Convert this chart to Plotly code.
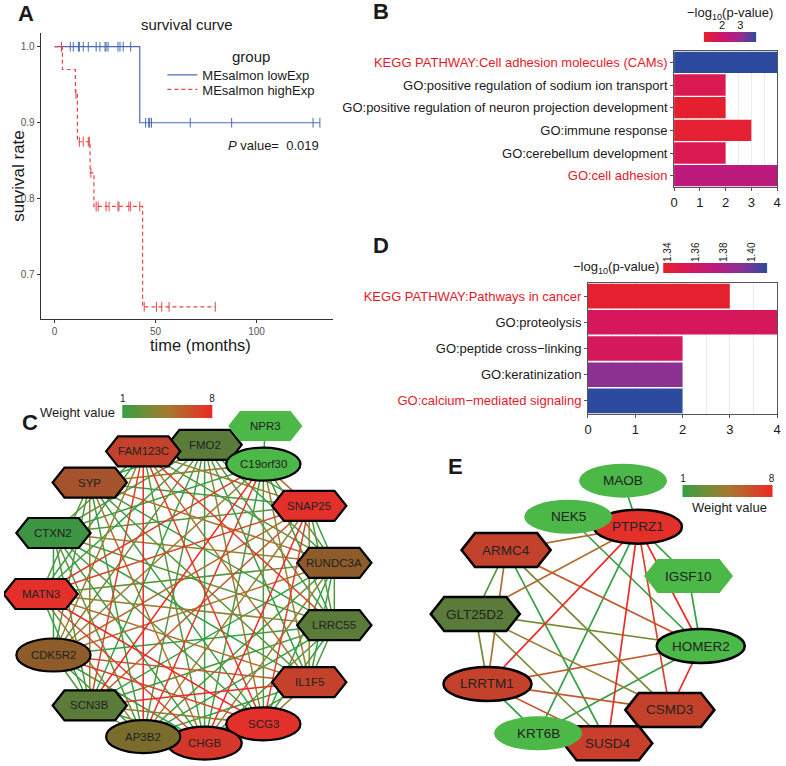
import numpy as np
import plotly.graph_objects as go
from plotly.colors import sample_colorscale

W, H = 786, 766
FONT = "Arial, Liberation Sans, sans-serif"
INK = "#1a1a1a"
BLUE = "#4a6bb3"
RED = "#e8474a"
HIGHLIGHT = "#e3192b"

def px(x):
    return x / W

def py(y):
    return 1 - y / H

# ---------------- A: survival curve data ----------------
group_names = ["MEsalmon lowExp", "MEsalmon highExp"]
low_time = [0, 42.2, 131.4]
low_surv = [1.0, 0.9, 0.9]
high_time = [0, 3.9, 10.3, 11.3, 17.6, 19.5, 43.6, 79.6]
high_surv = [1.0, 0.97, 0.9375, 0.875, 0.834, 0.79, 0.658, 0.658]
low_censor = [3.4, 7.8, 9.3, 11.8, 12.3, 14.2, 16.7, 20.6, 22.5, 25.0, 25.5, 26.5,
              31.4, 32.4, 34.0, 37.7, 45.1, 46.6, 47.1, 48.0, 67.2, 87.7, 128.0, 131.4]
high_censor = [3.4, 10.6, 12.3, 14.2, 16.7, 17.2, 18.0, 20.6, 21.6, 25.5, 27.0, 31.4,
               31.9, 36.8, 37.7, 42.2, 44.4, 50.5, 53.1, 56.7, 79.6]
p_value = 0.019
a_xticks = [0, 50, 100]
a_yticks = [0.7, 0.8, 0.9, 1.0]

# ---------------- B: enrichment ----------------
b_terms = ["KEGG PATHWAY:Cell adhesion molecules (CAMs)",
           "GO:positive regulation of sodium ion transport",
           "GO:positive regulation of neuron projection development",
           "GO:immune response",
           "GO:cerebellum development",
           "GO:cell adhesion"]
b_counts = [4, 2, 2, 3, 2, 4]
b_logp = [3.87, 1.57, 1.05, 1.10, 1.57, 2.43]
b_red_terms = ["KEGG PATHWAY:Cell adhesion molecules (CAMs)", "GO:cell adhesion"]
b_logp_range = [1.0, 3.87]
b_cbar_ticks = [2, 3]

# ---------------- D: enrichment ----------------
d_terms = ["KEGG PATHWAY:Pathways in cancer",
           "GO:proteolysis",
           "GO:peptide cross\u2212linking",
           "GO:keratinization",
           "GO:calcium\u2212mediated signaling"]
d_counts = [3, 4, 2, 2, 2]
d_logp = [1.338, 1.355, 1.356, 1.392, 1.411]
d_red_terms = ["KEGG PATHWAY:Pathways in cancer", "GO:calcium\u2212mediated signaling"]
d_logp_range = [1.3365, 1.4110]
d_cbar_ticks = [1.34, 1.36, 1.38, 1.40]
count_ticks = [0, 1, 2, 3, 4]

# ---------------- C: network ----------------
c_ring = ["FMO2", "C19orf30", "SNAP25", "RUNDC3A", "LRRC55", "IL1F5", "SCG3", "CHGB",
          "AP3B2", "SCN3B", "CDK5R2", "MATN3", "CTXN2", "SYP", "FAM123C"]
# upper-triangle weight rows (row i lists weights to ring nodes i+1..end, '.' = no edge)
c_weight_rows = [".212141213121.",
                 "5214217847145",
                 "124784657214",
                 "21142152452",
                 "2121214217",
                 "421865125",
                 "52478217",
                 ".217152",
                 "214218",
                 "21247",
                 ".124",
                 ".21",
                 ".2",
                 "."]
c_satellite = {"NPR3": "C19orf30"}
c_extra_edges = [("C19orf30", "NPR3", 1)]
c_node_value = {"NPR3": 1, "FMO2": 3, "FAM123C": 7, "C19orf30": 1, "SYP": 6, "SNAP25": 8,
                "CTXN2": 2, "RUNDC3A": 5, "MATN3": 8, "LRRC55": 3, "CDK5R2": 5, "IL1F5": 7,
                "SCN3B": 3, "SCG3": 8, "AP3B2": 4, "CHGB": 7.6}
c_hexagon = {"NPR3", "FMO2", "FAM123C", "SYP", "SNAP25", "CTXN2", "RUNDC3A", "MATN3",
             "LRRC55", "IL1F5", "SCN3B"}
c_unbordered = {"NPR3"}

# ---------------- E: network ----------------
e_ring = ["PTPRZ1", "IGSF10", "HOMER2", "CSMD3", "SUSD4", "KRT6B", "LRRTM1", "GLT25D2",
          "ARMC4", "NEK5"]
e_satellite = {"MAOB": "PTPRZ1"}
e_edges = [("MAOB", "PTPRZ1", 1), ("PTPRZ1", "ARMC4", 5), ("PTPRZ1", "GLT25D2", 5),
           ("PTPRZ1", "LRRTM1", 8), ("PTPRZ1", "KRT6B", 1), ("PTPRZ1", "SUSD4", 8),
           ("PTPRZ1", "CSMD3", 7), ("PTPRZ1", "HOMER2", 8), ("PTPRZ1", "IGSF10", 1),
           ("NEK5", "HOMER2", 1), ("IGSF10", "HOMER2", 1), ("ARMC4", "GLT25D2", 2),
           ("ARMC4", "LRRTM1", 5), ("ARMC4", "HOMER2", 6), ("ARMC4", "SUSD4", 1),
           ("ARMC4", "CSMD3", 3), ("GLT25D2", "HOMER2", 3), ("GLT25D2", "LRRTM1", 3),
           ("GLT25D2", "CSMD3", 4), ("GLT25D2", "SUSD4", 3), ("LRRTM1", "HOMER2", 6),
           ("LRRTM1", "CSMD3", 6), ("LRRTM1", "SUSD4", 6), ("LRRTM1", "KRT6B", 1),
           ("KRT6B", "HOMER2", 1), ("KRT6B", "SUSD4", 6), ("HOMER2", "CSMD3", 8),
           ("CSMD3", "SUSD4", 5)]
e_node_value = {"MAOB": 1, "NEK5": 1, "PTPRZ1": 8, "ARMC4": 7, "IGSF10": 1, "GLT25D2": 3,
                "HOMER2": 1, "LRRTM1": 7, "CSMD3": 7, "KRT6B": 1, "SUSD4": 7.2}
e_hexagon = {"ARMC4", "IGSF10", "GLT25D2", "CSMD3", "SUSD4"}
e_unbordered = {"MAOB", "NEK5", "IGSF10", "KRT6B"}
weight_range = [1, 8]

# ---------------- colour scales ----------------
PVAL_SCALE = [[0, "#e6212b"], [0.25, "#d6175a"], [0.5, "#bd1a7e"], [0.75, "#8a3192"], [1, "#2d4b9e"]]
WEIGHT_SCALE = [[0, "#35a043"], [0.5, "#a57a30"], [1, "#ec2b26"]]
NODE_SCALE = [[0, "#4cb848"], [1 / 7, "#3d9442"], [2 / 7, "#5b7b3a"], [3 / 7, "#7a6c2c"],
              [4 / 7, "#8d5c2a"], [5 / 7, "#a4532c"], [6 / 7, "#c4422c"], [1, "#e3302a"]]


def surv_at(times, survs, t):
    val = survs[0]
    for ti, si in zip(times, survs):
        if ti <= t:
            val = si
    return val


fig = go.Figure()

# ---------------- A traces ----------------
for name, t, s, cens, color, dash, leg in [
        (group_names[0], low_time, low_surv, low_censor, BLUE, "solid", "legend"),
        (group_names[1], high_time, high_surv, high_censor, RED, "4px,3px", "legend2")]:
    fig.add_trace(go.Scatter(x=t, y=s, mode="lines", name=name, legendgroup=name, legend=leg,
                             line=dict(shape="hv", color=color, width=1.2, dash=dash),
                             xaxis="x", yaxis="y", hoverinfo="skip"))
    fig.add_trace(go.Scatter(x=cens, y=[surv_at(t, s, c) for c in cens], mode="markers",
                             marker=dict(symbol="line-ns-open", size=7, color=color,
                                         line=dict(color=color, width=1)),
                             showlegend=False, legendgroup=name, xaxis="x", yaxis="y",
                             hoverinfo="skip"))

# ---------------- B & D bars ----------------
fig.add_trace(go.Bar(x=b_counts, y=b_terms, orientation="h", showlegend=False,
                     marker=dict(color=b_logp, coloraxis="coloraxis", line=dict(width=0)),
                     xaxis="x2", yaxis="y2"))
fig.add_trace(go.Bar(x=d_counts, y=d_terms, orientation="h", showlegend=False,
                     marker=dict(color=d_logp, coloraxis="coloraxis2", line=dict(width=0)),
                     xaxis="x3", yaxis="y3"))

# colour legends drawn as thin heatmaps sharing the bar colour axes
bx = np.linspace(b_logp_range[0], b_logp_range[1], 80)
fig.add_trace(go.Heatmap(x=bx, y=[0], z=[bx], coloraxis="coloraxis", xaxis="x5", yaxis="y5",
                         hoverinfo="skip"))
dx = np.linspace(d_logp_range[0], d_logp_range[1], 80)
fig.add_trace(go.Heatmap(x=dx, y=[0], z=[dx], coloraxis="coloraxis2", xaxis="x6", yaxis="y6",
                         hoverinfo="skip"))
wx = np.linspace(weight_range[0], weight_range[1], 80)
for xa, ya in [("x7", "y7"), ("x8", "y8")]:
    fig.add_trace(go.Heatmap(x=wx, y=[0], z=[wx], colorscale=WEIGHT_SCALE, zmin=1, zmax=8,
                             showscale=False, xaxis=xa, yaxis=ya, hoverinfo="skip"))

# ---------------- networks ----------------
def ring_positions(ring, cx, cy, r, start, step):
    pos = {}
    for k, name in enumerate(ring):
        th = np.radians(start + k * step)
        pos[name] = (cx + r * np.sin(th), cy - r * np.cos(th))
    return pos


def ring_edges(ring, rows):
    edges = []
    for i, row in enumerate(rows):
        for off, ch in enumerate(row):
            if ch != ".":
                edges.append((ring[i], ring[i + 1 + off], int(ch)))
    return edges


shapes = []
annotations = []


def draw_network(pos, edges, node_value, hexagons, unbordered, size_hex, size_ell,
                 font_size, edge_width, border):
    for w in sorted(set(e[2] for e in edges)):
        xs, ys = [], []
        for a, b, ww in edges:
            if ww == w:
                xs += [pos[a][0], pos[b][0], None]
                ys += [pos[a][1], pos[b][1], None]
        col = sample_colorscale(WEIGHT_SCALE, [(w - 1) / 7])[0]
        fig.add_trace(go.Scatter(x=xs, y=ys, mode="lines", line=dict(color=col, width=edge_width),
                                 xaxis="x4", yaxis="y4", showlegend=False, hoverinfo="skip"))
    for name, (cx, cy) in pos.items():
        fill = sample_colorscale(NODE_SCALE, [(node_value[name] - 1) / 7])[0]
        line = dict(color="black", width=0 if name in unbordered else border)
        if name in hexagons:
            w, h = size_hex
            s = h * 0.4
            path = (f"M {cx - w / 2},{cy} L {cx - w / 2 + s},{cy - h / 2} L {cx + w / 2 - s},{cy - h / 2} "
                    f"L {cx + w / 2},{cy} L {cx + w / 2 - s},{cy + h / 2} L {cx - w / 2 + s},{cy + h / 2} Z")
            shapes.append(dict(type="path", path=path, xref="x4", yref="y4", fillcolor=fill,
                               line=line, layer="above"))
        else:
            w, h = size_ell
            shapes.append(dict(type="circle", x0=cx - w / 2, x1=cx + w / 2, y0=cy - h / 2,
                               y1=cy + h / 2, xref="x4", yref="y4", fillcolor=fill, line=line,
                               layer="above"))
        annotations.append(dict(x=cx, y=cy, xref="x4", yref="y4", text=name, showarrow=False,
                                xanchor="center", yanchor="middle",
                                font=dict(size=font_size, color="#222222", family=FONT)))


c_pos = ring_positions(c_ring, 187, 594, 150, 6, 24)
for sat, host in c_satellite.items():
    c_pos[sat] = (c_pos[host][0] + 2, c_pos[host][1] - 38)
c_edges = ring_edges(c_ring, c_weight_rows) + c_extra_edges
draw_network(c_pos, c_edges, c_node_value, c_hexagon, c_unbordered, (75, 30), (75, 33),
             11.5, 1.5, 2.2)

e_pos = ring_positions(e_ring, 590, 630, 115, 26, 36)
for sat, host in e_satellite.items():
    e_pos[sat] = (e_pos[host][0] - 15, e_pos[host][1] - 46)
draw_network(e_pos, e_edges, e_node_value, e_hexagon, e_unbordered, (90, 34), (89, 34),
             13.5, 1.7, 2.5)

# ---------------- text annotations ----------------
def note(x, y, text, size, xanchor="center", **kw):
    d = dict(x=px(x), y=py(y), xref="paper", yref="paper", text=text, showarrow=False,
             xanchor=xanchor, yanchor="middle",
             font=dict(size=size, color=kw.pop("color", INK), family=FONT))
    d.update(kw)
    annotations.append(d)

for letter, x, y in [("A", 22, 13), ("B", 381, 12), ("D", 381, 246), ("C", 26, 422), ("E", 456, 466)]:
    note(x, y, f"<b>{letter}</b>", 22)
note(185, 25, "survival curve", 15)
note(14, 176, "survival rate", 17, textangle=-90)
note(199, 345, "time (months)", 16.5)
note(250, 56, "group", 15)
note(320, 145, f"<i>P</i> value=\u00a0\u00a0{p_value}", 13, xanchor="right")
note(733, 14, "\u2212log<sub>10</sub>(p-value)", 13)
note(664, 267, "\u2212log<sub>10</sub>(p-value)", 13, xanchor="right")
note(114, 412, "Weight value", 13, xanchor="right")
note(733, 507, "Weight value", 13)


def colored_ticks(terms, red_terms):
    return [f"<span style='color:{HIGHLIGHT}'>{t}</span>" if t in red_terms else t for t in terms]


frame = dict(showline=True, mirror=True, linecolor="#555555", linewidth=1, ticks="outside",
             ticklen=3, tickcolor="#555555", zeroline=False)
bar_x = dict(frame, range=[0, 4], tickvals=count_ticks, tickfont=dict(size=13, color=INK),
             showgrid=True, gridcolor="#ececec", gridwidth=1,
             minor=dict(dtick=0.5, showgrid=True, gridcolor="#ececec"))

hidden = dict(visible=False, fixedrange=True)
leg_common = dict(x=px(160), xanchor="left", yanchor="middle", bgcolor="rgba(0,0,0,0)",
                  font=dict(size=13, color=INK), itemwidth=30, tracegroupgap=0)

fig.update_layout(
    width=W, height=H, margin=dict(l=0, r=0, t=0, b=0),
    paper_bgcolor="white", plot_bgcolor="rgba(0,0,0,0)",
    font=dict(family=FONT, color=INK),
    bargap=0.06,
    xaxis=dict(domain=[px(37), px(332)], range=[-6.9, 137.7], anchor="y", showline=True,
               linecolor="#333333", linewidth=1, ticks="outside", ticklen=3, tickcolor="#333333",
               tickvals=a_xticks, tickfont=dict(size=10, color="#555555"), showgrid=False,
               zeroline=False),
    yaxis=dict(domain=[py(319), py(33)], range=[0.642, 1.018], anchor="x", showline=True,
               linecolor="#333333", linewidth=1, ticks="outside", ticklen=3, tickcolor="#333333",
               tickvals=a_yticks, ticktext=[f"{v:.1f}" for v in a_yticks],
               tickfont=dict(size=10, color="#555555"), showgrid=False, zeroline=False),
    xaxis2=dict(bar_x, domain=[px(677), px(781)], anchor="y2"),
    yaxis2=dict(frame, domain=[py(187), py(51)], anchor="x2", type="category",
                autorange="reversed", tickvals=b_terms,
                ticktext=colored_ticks(b_terms, b_red_terms), tickfont=dict(size=13, color=INK),
                showgrid=False),
    xaxis3=dict(bar_x, domain=[px(590), px(781)], anchor="y3"),
    yaxis3=dict(frame, domain=[py(414), py(283)], anchor="x3", type="category",
                autorange="reversed", tickvals=d_terms,
                ticktext=colored_ticks(d_terms, d_red_terms), tickfont=dict(size=13, color=INK),
                showgrid=False),
    xaxis4=dict(hidden, domain=[0, 1], range=[0, W], anchor="y4"),
    yaxis4=dict(hidden, domain=[0, 1], range=[H, 0], anchor="x4"),
    xaxis5=dict(domain=[px(707), px(760)], range=b_logp_range, anchor="y5", side="top",
                tickvals=b_cbar_ticks, ticks="", tickfont=dict(size=11, color=INK),
                showgrid=False, zeroline=False, fixedrange=True),
    yaxis5=dict(hidden, domain=[py(42), py(32)], anchor="x5"),
    xaxis6=dict(domain=[px(666), px(771)], range=d_logp_range, anchor="y6", side="top",
                tickvals=d_cbar_ticks, ticktext=[f"{v:.2f}" for v in d_cbar_ticks], ticks="",
                tickangle=-90, tickfont=dict(size=10, color=INK), showgrid=False,
                zeroline=False, fixedrange=True),
    yaxis6=dict(hidden, domain=[py(273), py(263)], anchor="x6"),
    xaxis7=dict(domain=[px(118), px(216)], range=[0.84, 8.45], anchor="y7", side="top",
                tickvals=weight_range, ticks="", tickfont=dict(size=10, color=INK),
                showgrid=False, zeroline=False, fixedrange=True),
    yaxis7=dict(hidden, domain=[py(418), py(405)], anchor="x7"),
    xaxis8=dict(domain=[px(684), px(781)], range=[0.84, 8.43], anchor="y8", side="top",
                tickvals=weight_range, ticks="", tickfont=dict(size=10, color=INK),
                showgrid=False, zeroline=False, fixedrange=True),
    yaxis8=dict(hidden, domain=[py(497), py(485)], anchor="x8"),
    coloraxis=dict(colorscale=PVAL_SCALE, cmin=b_logp_range[0], cmax=b_logp_range[1],
                   showscale=False),
    coloraxis2=dict(colorscale=PVAL_SCALE, cmin=d_logp_range[0], cmax=d_logp_range[1],
                    showscale=False),
    showlegend=True,
    legend=dict(leg_common, y=py(75)),
    legend2=dict(leg_common, y=py(89.5)),
    shapes=shapes,
    annotations=annotations,
)

fig.write_html("out.html", config={"displayModeBar": False},
               post_script="document.body.style.margin='0';document.body.style.overflow='hidden';")
